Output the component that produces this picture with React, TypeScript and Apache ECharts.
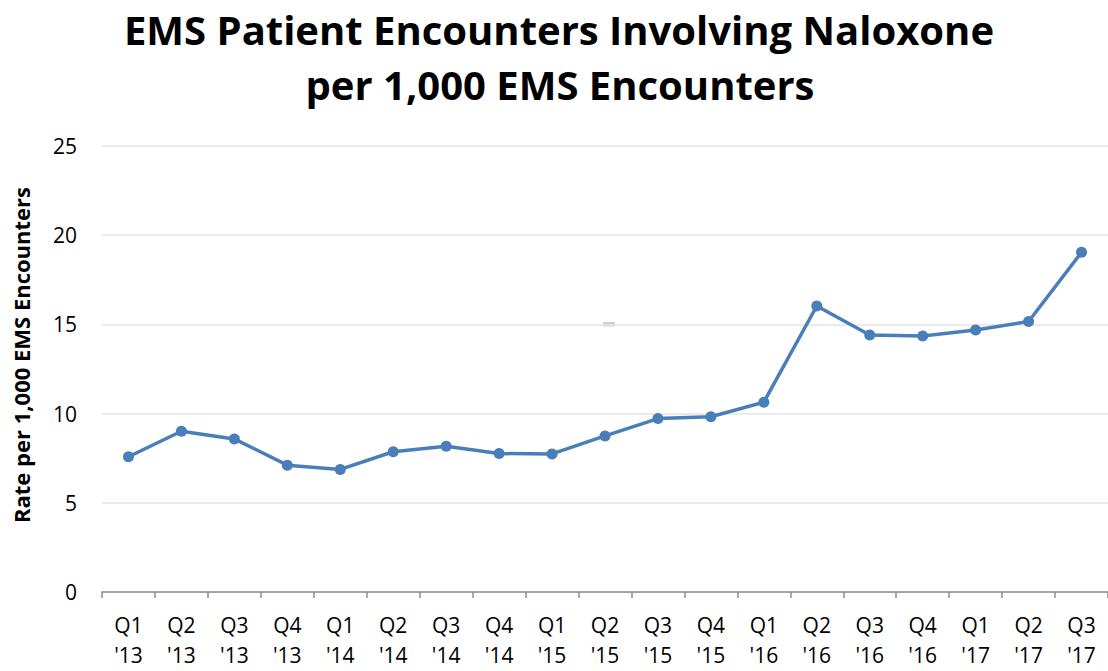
import React, { useEffect, useRef } from "react";
import * as echarts from "echarts";

const categories = [
  "Q1\n'13", "Q2\n'13", "Q3\n'13", "Q4\n'13",
  "Q1\n'14", "Q2\n'14", "Q3\n'14", "Q4\n'14",
  "Q1\n'15", "Q2\n'15", "Q3\n'15", "Q4\n'15",
  "Q1\n'16", "Q2\n'16", "Q3\n'16", "Q4\n'16",
  "Q1\n'17", "Q2\n'17", "Q3\n'17",
];
const rates = [
  7.58, 9.01, 8.58, 7.11,
  6.87, 7.86, 8.17, 7.76,
  7.74, 8.75, 9.72, 9.82,
  10.64, 16.03, 14.41, 14.35,
  14.69, 15.16, 19.04,
];
const titleLines = ["EMS Patient Encounters Involving Naloxone", "per 1,000 EMS Encounters"];
const yAxisTitle = "Rate per 1,000 EMS Encounters";

export default function App() {
  const ref = useRef<HTMLDivElement>(null);
  useEffect(() => {
    if (!ref.current) return;
    const chart = echarts.init(ref.current, null, { renderer: "svg" });
    const font = "Open Sans";
    chart.setOption({
      animation: false,
      backgroundColor: "#ffffff",
      grid: { left: 102, top: 146, width: 1013, height: 446, containLabel: false },
      xAxis: {
        type: "category",
        data: categories,
        boundaryGap: true,
        axisLine: { show: true, lineStyle: { color: "#8c8c8c", width: 1.5 } },
        axisTick: { show: true, length: 6, lineStyle: { color: "#8c8c8c", width: 1.5 } },
        axisLabel: {
          interval: 0,
          margin: 18,
          fontFamily: font,
          fontSize: 21,
          lineHeight: 30,
          color: "#000000",
        },
      },
      yAxis: {
        type: "value",
        min: 0,
        max: 25,
        interval: 5,
        axisLine: { show: false },
        axisTick: { show: false },
        splitLine: { lineStyle: { color: "#e4e4e4", width: 1.5 } },
        axisLabel: { margin: 25, fontFamily: font, fontSize: 21, color: "#000000" },
      },
      series: [
        {
          type: "line",
          data: rates,
          symbol: "circle",
          symbolSize: 11,
          itemStyle: { color: "#4a7ebb" },
          lineStyle: { color: "#4a7ebb", width: 3.5 },
        },
      ],
      graphic: [
        {
          type: "text",
          x: 559,
          y: 29,
          style: {
            text: titleLines[0],
            font: `bold 40px "${font}"`,
            fill: "#000000",
            textAlign: "center",
            textVerticalAlign: "middle",
          },
        },
        {
          type: "text",
          x: 560,
          y: 84,
          style: {
            text: titleLines[1],
            font: `bold 40px "${font}"`,
            fill: "#000000",
            textAlign: "center",
            textVerticalAlign: "middle",
          },
        },
        {
          type: "text",
          x: 21,
          y: 355,
          rotation: Math.PI / 2,
          style: {
            text: yAxisTitle,
            font: `bold 22px "${font}"`,
            fill: "#000000",
            textAlign: "center",
            textVerticalAlign: "middle",
          },
        },
        {
          type: "rect",
          shape: { x: 603, y: 322, width: 12, height: 4.5 },
          style: { fill: "#d0d0d0" },
        },
      ],
    });
    return () => chart.dispose();
  }, []);
  return (
    <div
      ref={ref}
      style={{ position: "fixed", left: 0, top: 0, width: 1108, height: 671, overflow: "hidden" }}
    />
  );
}
